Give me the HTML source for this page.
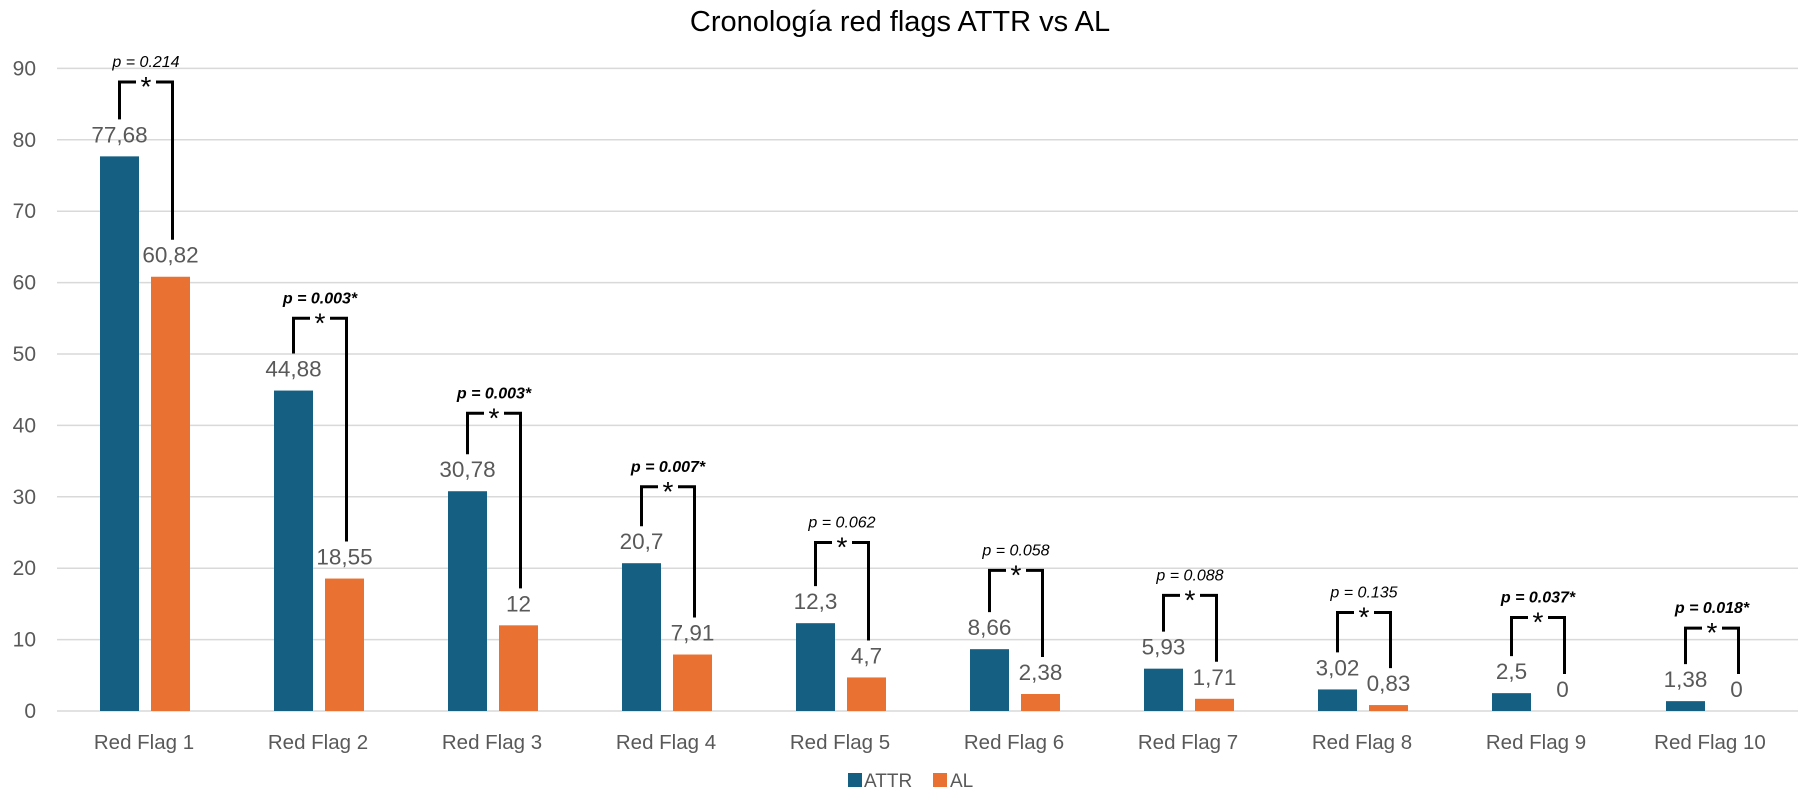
<!DOCTYPE html>
<html><head><meta charset="utf-8"><style>
body{margin:0;background:#fff;}
svg{display:block;font-family:"Liberation Sans",sans-serif;}
</style></head><body>
<svg id="c" width="1800" height="800"></svg>
<script>
const categories=["Red Flag 1","Red Flag 2","Red Flag 3","Red Flag 4","Red Flag 5","Red Flag 6","Red Flag 7","Red Flag 8","Red Flag 9","Red Flag 10"];
const attrValues=[77.68,44.88,30.78,20.7,12.3,8.66,5.93,3.02,2.5,1.38];
const alValues=[60.82,18.55,12,7.91,4.7,2.38,1.71,0.83,0,0];
const attrLabels=["77,68","44,88","30,78","20,7","12,3","8,66","5,93","3,02","2,5","1,38"];
const alLabels=["60,82","18,55","12","7,91","4,7","2,38","1,71","0,83","0","0"];
const pLabels=["p = 0.214","p = 0.003*","p = 0.003*","p = 0.007*","p = 0.062","p = 0.058","p = 0.088","p = 0.135","p = 0.037*","p = 0.018*"];
const pSignificant=[false,true,true,true,false,false,false,false,true,true];
const bracketTops=[88.1,55.0,41.7,31.4,23.6,19.7,16.2,13.8,13.1,11.6];
const yTicks=[0,10,20,30,40,50,60,70,80,90];

const svg=document.getElementById('c');
const NS='http://www.w3.org/2000/svg';
const y0=711, yPer=71.4/10, left=57, step=174, bw=39;
const Y=v=>y0-v*yPer;
const X=i=>left+step*i+step/2;
function mk(tag,attrs,txt){const e=document.createElementNS(NS,tag);for(const k in attrs)e.setAttribute(k,attrs[k]);if(txt!==undefined)e.textContent=txt;svg.appendChild(e);return e;}

let t=mk('text',{x:900,y:31,'text-anchor':'middle','font-size':29,fill:'#000'},'Cronología red flags ATTR vs AL');



yTicks.forEach(v=>{
  let l=mk('line',{x1:left,x2:1798,y1:Y(v),y2:Y(v),stroke:'#d9d9d9','stroke-width':1.5});
  
  
  let tx=mk('text',{x:36,y:Y(v)+7,'text-anchor':'end','font-size':21,fill:'#595959'},String(v));
  
  
});

categories.forEach((c,i)=>{
  const cx=X(i);
  const ax=cx-bw-6+1, alx=cx+6+1;
  let b=mk('rect',{x:ax,y:Y(attrValues[i]),width:bw,height:y0-Y(attrValues[i]),fill:'#156082'});
  
  
  let b2=mk('rect',{x:alx,y:Y(alValues[i]),width:bw,height:y0-Y(alValues[i]),fill:'#E97132'});
  
  
  let l1=mk('text',{x:ax+bw/2,y:Y(attrValues[i])-14,'text-anchor':'middle','font-size':22.5,fill:'#595959'},attrLabels[i]);
  
  
  let l2=mk('text',{x:alx+bw/2,y:Y(alValues[i])-14,'text-anchor':'middle','font-size':22.5,fill:'#595959'},alLabels[i]);
  
  
  let cl=mk('text',{x:cx,y:749,'text-anchor':'middle','font-size':20.5,fill:'#595959'},c);
  
  
  const top=Y(bracketTops[i]);
  const lx=ax+bw/2, rx=alx+bw/2+2, mid=(lx+rx)/2;
  const lb=Y(attrValues[i])-37, rb=Y(alValues[i])-37;
  let p=mk('path',{d:`M${lx},${lb} V${top} H${mid-10} M${mid+10},${top} H${rx} V${rb}`,fill:'none',stroke:'#000','stroke-width':3});
  
  
  let s=mk('text',{x:mid,y:top+14,'text-anchor':'middle','font-size':28,fill:'#000'},'*');
  
  
  let pt=mk('text',{x:mid,y:top-15,'text-anchor':'middle','font-size':16,'font-style':'italic','font-weight':pSignificant[i]?'bold':'normal',fill:'#000'},pLabels[i]);
  
  
});

let lg=mk('rect',{x:848,y:773,width:14,height:14,fill:'#156082'});


let lt=mk('text',{x:864,y:787,'font-size':19,fill:'#595959'},'ATTR');


let lg2=mk('rect',{x:933,y:773,width:14,height:14,fill:'#E97132'});


let lt2=mk('text',{x:950,y:787,'font-size':19,fill:'#595959'},'AL');


</script>
</body></html>
